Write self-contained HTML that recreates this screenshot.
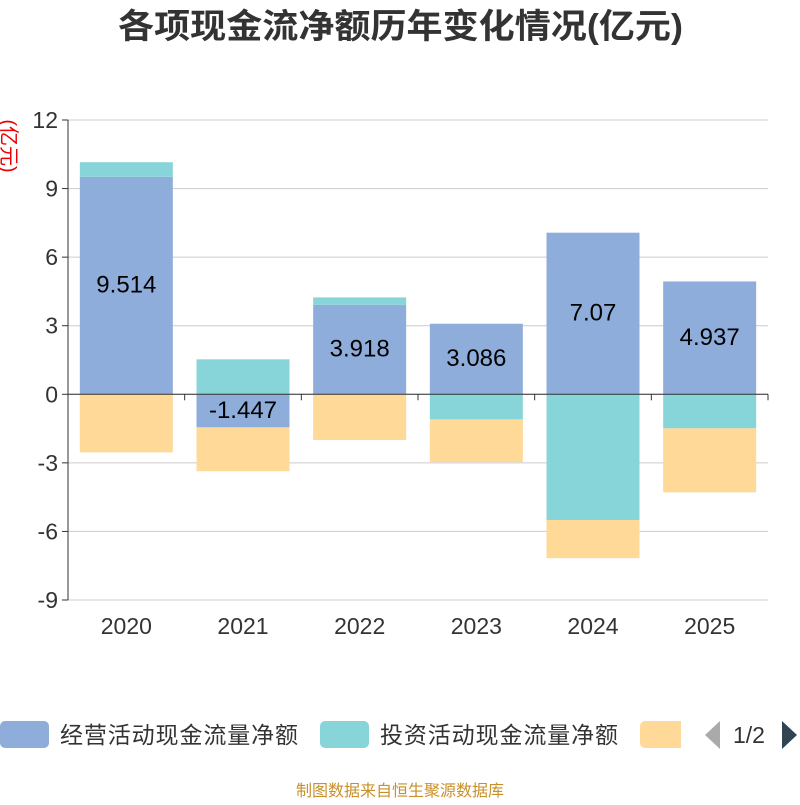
<!DOCTYPE html>
<html><head><meta charset="utf-8"><style>
body{margin:0;background:#fff;width:800px;height:800px;overflow:hidden;font-family:"Liberation Sans","Noto Sans CJK SC",sans-serif}
</style></head><body>
<svg id="c" width="800" height="800" xmlns="http://www.w3.org/2000/svg">
<text x="118" y="38" font-size="34" font-weight="bold" fill="#333" textLength="565" lengthAdjust="spacingAndGlyphs" font-family="Liberation Sans,Noto Sans CJK SC,sans-serif">各项现金流净额历年变化情况(亿元)</text>
<text transform="translate(2,146) rotate(90)" text-anchor="middle" font-size="20" fill="#e00" font-family="Liberation Sans,Noto Sans CJK SC,sans-serif">(亿元)</text>
<g id="grid"></g><g id="bars"></g><g id="axes"></g><g id="labels"></g>
<rect x="0" y="721" width="49" height="27" rx="5" fill="#8eadda"/>
<text x="60" y="743" font-size="23" fill="#333" textLength="238" font-family="Liberation Sans,Noto Sans CJK SC,sans-serif">经营活动现金流量净额</text>
<rect x="320" y="721" width="49" height="27" rx="5" fill="#88d5d9"/>
<text x="380" y="743" font-size="23" fill="#333" textLength="238" font-family="Liberation Sans,Noto Sans CJK SC,sans-serif">投资活动现金流量净额</text>
<path d="M640,726 a5,5 0 0 1 5,-5 h36 v27 h-36 a5,5 0 0 1 -5,-5z" fill="#fed997"/>
<polygon points="720,721 720,749 705,735" fill="#aaa"/>
<text x="733" y="743" font-size="23" fill="#333">1/2</text>
<polygon points="782,721 782,749 797,735" fill="#2f4554"/>
<text x="400" y="796" text-anchor="middle" font-size="16" fill="#c8902a" font-family="Liberation Sans,Noto Sans CJK SC,sans-serif">制图数据来自恒生聚源数据库</text>
</svg>
<script>
const categories=["2020","2021","2022","2023","2024","2025"];
const operating=[9.514,-1.447,3.918,3.086,7.07,4.937];
const investing=[0.64,1.53,0.32,-1.1,-5.5,-1.49];
const financing=[-2.54,-1.92,-2.0,-1.87,-1.67,-2.8];
const yTicks=[-9,-6,-3,0,3,6,9,12];
const NS="http://www.w3.org/2000/svg";
const X0=68,X1=768,Y_TOP=120,Y_BOT=600,YMIN=-9,YMAX=12;
const band=(X1-X0)/categories.length;
function y(v){return Y_BOT-(v-YMIN)/(YMAX-YMIN)*(Y_BOT-Y_TOP);}
function xc(i){return X0+band*(i+0.5);}
function mk(tag,at,parent){const e=document.createElementNS(NS,tag);for(const k in at)e.setAttribute(k,at[k]);document.getElementById(parent).appendChild(e);return e;}
yTicks.forEach(t=>{
 const l=mk('line',{x1:X0,x2:X1,y1:y(t),y2:y(t),stroke:'#ccc','stroke-width':1},'grid');
 
 
 const tk=mk('line',{x1:X0-6,x2:X0,y1:y(t),y2:y(t),stroke:'#333'},'axes');
 
 
 const tx=mk('text',{x:X0-10,y:y(t)+8,'text-anchor':'end','font-size':23,fill:'#333'},'axes');
 tx.textContent=t;
 
 
});
const ya=mk('line',{x1:X0,x2:X0,y1:Y_TOP,y2:Y_BOT,stroke:'#333'},'axes');


const xa=mk('line',{x1:X0,x2:X1,y1:y(0),y2:y(0),stroke:'#333'},'axes');


for(let i=0;i<=categories.length;i++){
 const t=mk('line',{x1:X0+band*i,x2:X0+band*i,y1:y(0),y2:y(0)+6,stroke:'#333'},'axes');
 
 
}
const series=[[operating,'#8eadda','bar-operating'],[investing,'#88d5d9','bar-investing'],[financing,'#fed997','bar-financing']];
const bw=93;
categories.forEach((c,i)=>{
 let pos=0,neg=0;
 series.forEach(([arr,col,nm])=>{
  const v=arr[i];let a,b;
  if(v>=0){a=pos;b=pos+v;pos=b;}else{a=neg;b=neg+v;neg=b;}
  const r=mk('rect',{x:xc(i)-bw/2,y:Math.min(y(a),y(b)),width:bw,height:Math.abs(y(a)-y(b)),fill:col},'bars');
  
  
 });
 const v=operating[i];
 const lab=mk('text',{x:xc(i),y:y(v/2)+7,'text-anchor':'middle','font-size':24,fill:'#000'},'labels');
 lab.textContent=String(v);
 
 
 const xl=mk('text',{x:xc(i),y:634,'text-anchor':'middle','font-size':23,fill:'#333'},'labels');
 xl.textContent=c;
 
 
});
</script>
</body></html>
